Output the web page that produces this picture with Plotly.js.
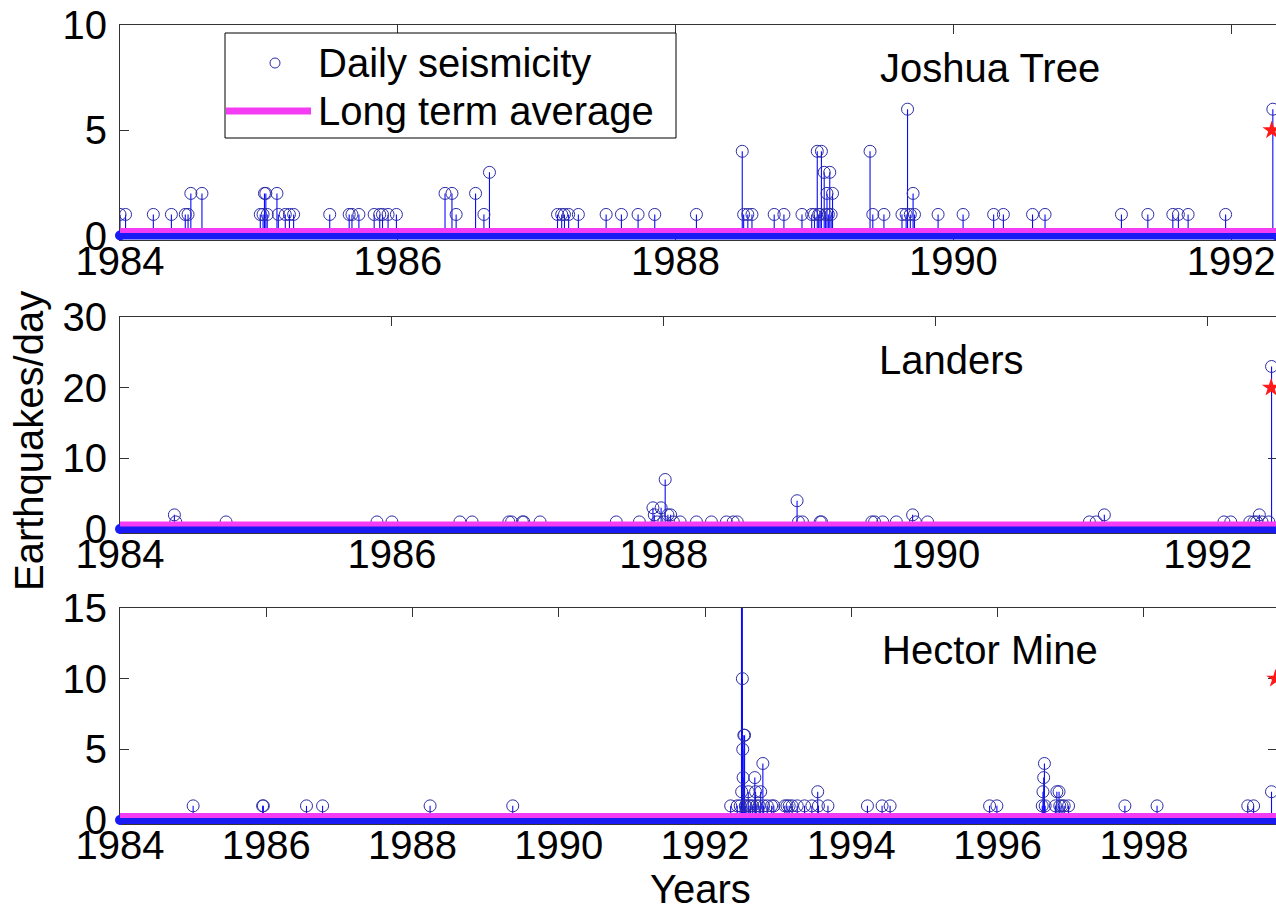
<!DOCTYPE html>
<html><head><meta charset="utf-8">
<script src="https://cdn.plot.ly/plotly-3.0.1.min.js"></script>
<style>html,body{margin:0;padding:0;overflow:hidden;background:#fff;}#chart{width:1287px;height:910px;}</style>
</head><body><div id="chart"></div>
<script>
// ---- data (decimal years, earthquakes per day) ----
const jtYears = [1984.00,1984.04,1984.24,1984.37,1984.47,1984.49,1984.51,1984.59,
 1985.01,1985.03,1985.04,1985.05,1985.06,1985.13,1985.14,1985.19,1985.22,1985.25,
 1985.51,1985.65,1985.67,1985.72,1985.83,1985.87,1985.89,1985.93,1985.99,
 1986.34,1986.39,1986.42,1986.56,1986.62,1986.66,
 1987.15,1987.18,1987.20,1987.23,1987.30,1987.50,1987.61,1987.73,1987.85,
 1988.15,1988.48,1988.49,1988.52,1988.55,1988.71,1988.78,1988.91,
 1988.98,1989.00,1989.02,1989.03,1989.04,1989.05,1989.07,1989.08,1989.09,1989.10,1989.11,1989.12,1989.13,
 1989.40,1989.42,1989.50,1989.63,1989.66,1989.67,1989.69,1989.71,1989.72,
 1989.89,1990.07,1990.29,1990.36,1990.57,1990.66,1991.21,1991.40,1991.58,1991.62,1991.69,1991.96,1992.30];
const jtCounts = [1,1,1,1,1,1,2,2,
 1,1,2,2,1,2,1,1,1,1,
 1,1,1,1,1,1,1,1,1,
 2,2,1,2,1,3,
 1,1,1,1,1,1,1,1,1,
 1,4,1,1,1,1,1,1,
 1,1,4,1,1,4,3,1,2,1,3,1,2,
 4,1,1,1,1,6,1,2,1,
 1,1,1,1,1,1,1,1,1,1,1,1,6];

const laYears = [1984.40,1984.41,1984.78,1985.89,1986.00,1986.50,1986.59,1986.86,1986.88,1986.96,1986.97,1987.09,
 1987.65,1987.82,1987.92,1987.93,1987.95,1987.98,1988.00,1988.01,1988.03,1988.05,1988.07,1988.12,1988.24,1988.35,1988.46,1988.51,1988.54,
 1988.98,1988.99,1989.02,1989.15,1989.16,
 1989.53,1989.55,1989.61,1989.71,1989.83,1989.85,1989.94,
 1991.13,1991.18,1991.24,
 1992.12,1992.17,1992.31,1992.34,1992.36,1992.38,1992.40,1992.45,1992.47];
const laCounts = [2,1,1,1,1,1,1,1,1,1,1,1,
 1,1,3,2,1,3,1,7,2,2,1,1,1,1,1,1,1,
 4,1,1,1,1,
 1,1,1,1,2,1,1,
 1,1,2,
 1,1,1,1,1,2,1,1,23];

const hmYears = [1985.00,1985.95,1985.96,1986.55,1986.77,1988.24,1989.37,
 1992.35,1992.44,1992.48,1992.498,1992.50,1992.505,1992.508,1992.51,1992.515,1992.52,1992.53,1992.54,1992.55,1992.56,1992.59,1992.60,1992.62,1992.65,1992.68,1992.69,1992.70,1992.74,1992.76,1992.79,1992.80,1992.85,1992.91,
 1992.94,1993.09,1993.12,1993.15,1993.19,1993.26,1993.36,1993.46,1993.54,1993.55,1993.68,
 1994.22,1994.42,1994.53,1995.89,1995.99,
 1996.61,1996.62,1996.63,1996.64,1996.65,
 1996.79,1996.81,1996.84,1996.85,1996.88,1996.91,1996.97,
 1997.74,1998.18,1999.42,1999.50,1999.745];
const hmCounts = [1,1,1,1,1,1,1,
 1,1,1,30,2,60,20,10,5,3,6,6,1,1,2,1,1,1,3,2,1,1,2,4,1,1,1,
 1,1,1,1,1,1,1,1,2,1,1,
 1,1,1,1,1,
 1,2,3,4,1,
 1,2,2,1,1,1,1,
 1,1,1,1,2];

const panelNames = ['Joshua Tree', 'Landers', 'Hector Mine'];
const startYear = 1984;
const eventYears = [1992.292, 1992.467, 1999.80];   // mainshock (star)
const eventMarks = [5, 20, 10];
const longTermAvg = [0.24, 0.7, 0.32];
const axisEndYears = [1992.33, 1992.51, 1999.82];
const yMaxes = [10, 30, 15];
const xTickVals = [[1984,1986,1988,1990,1992],[1984,1986,1988,1990,1992],[1984,1986,1988,1990,1992,1994,1996,1998]];
const yTickVals = [[0,5,10],[0,10,20,30],[0,5,10,15]];
const legendLabels = ['Daily seismicity', 'Long term average'];
const xTitle = 'Years', yTitle = 'Earthquakes/day';

const seriesYears = [jtYears, laYears, hmYears];
const seriesCounts = [jtCounts, laCounts, hmCounts];

// ---- layout geometry (pixels) ----
const W = 1287, H = 910, L = 120, R = 10, T = 25, B = 86;
const plotW = W - L - R, plotH = H - T - B;
const panelTopPx = [25, 317, 608];
const panelZeroPx = [235.5, 529, 820];
const below = 4;
const FONT = '"Liberation Sans", Arial, Helvetica, sans-serif';
const pxX = x => (x - L) / plotW;
const pxY = y => (H - B - y) / plotH;

const BAND = '#1a1af5', STEM = '#0a0aff', CIRC = '#2c2ca8', MAG = '#f43cf4', STAR = '#ff1a1a';
const TICKSIZE = 40, TEXTSIZE = 40;

const traces = [];
const layout = {
  width: W, height: H, margin: {l: L, r: R, t: T, b: B},
  paper_bgcolor: '#fff', plot_bgcolor: '#fff', showlegend: false,
  font: {family: FONT, color: '#000'},
  annotations: [], shapes: []
};

for (let i = 0; i < 3; i++) {
  const sfx = i === 0 ? '' : String(i + 1);
  const xa = 'x' + sfx, ya = 'y' + sfx;
  const yrs = seriesYears[i], cnt = seriesCounts[i];
  const sx = [], sy = [];
  yrs.forEach((x, k) => { sx.push(x, x, null); sy.push(0, cnt[k], null); });
  traces.push({type: 'scatter', mode: 'lines', x: sx, y: sy, xaxis: xa, yaxis: ya,
    line: {color: STEM, width: 1.1}, hoverinfo: 'skip'});
  traces.push({type: 'scatter', mode: 'markers', x: yrs, y: cnt, xaxis: xa, yaxis: ya, name: legendLabels[0],
    marker: {symbol: 'circle-open', size: 12, color: CIRC, line: {width: 1}}});
  traces.push({type: 'scatter', mode: 'lines+markers', x: [startYear, axisEndYears[i]], y: [0, 0], xaxis: xa, yaxis: ya,
    line: {color: BAND, width: 10}, marker: {size: 10, color: BAND}, cliponaxis: false, hoverinfo: 'skip'});
  traces.push({type: 'scatter', mode: 'lines', x: [startYear, axisEndYears[i]], y: [longTermAvg[i], longTermAvg[i]],
    xaxis: xa, yaxis: ya, name: legendLabels[1], line: {color: MAG, width: 5}});
  traces.push({type: 'scatter', mode: 'markers', x: [eventYears[i]], y: [eventMarks[i]], xaxis: xa, yaxis: ya,
    marker: {symbol: 'star', size: 14, color: STAR}, cliponaxis: false});

  const ppu = (panelZeroPx[i] - panelTopPx[i]) / yMaxes[i];
  const axCommon = {showgrid: false, zeroline: false, showline: true, linecolor: '#333', linewidth: 1,
    mirror: 'ticks', ticks: 'inside', ticklen: 9, tickwidth: 1, tickcolor: '#333',
    tickfont: {family: FONT, size: TICKSIZE, color: '#000'}, layer: 'below traces', fixedrange: true};
  layout['xaxis' + sfx] = Object.assign({}, axCommon, {
    anchor: ya, domain: [0, 1], range: [startYear, axisEndYears[i]],
    tickmode: 'array', tickvals: xTickVals[i], ticktext: xTickVals[i].map(String), ticklabelstandoff: -14});
  layout['yaxis' + sfx] = Object.assign({}, axCommon, {
    anchor: xa, domain: [pxY(panelZeroPx[i] + below), pxY(panelTopPx[i])],
    range: [-below / ppu, yMaxes[i]], tickmode: 'array', tickvals: yTickVals[i],
    ticktext: yTickVals[i].map(String), ticklabelstandoff: 4});
}

// panel titles
const titlePos = [[990, 68], [951, 360], [990, 650]];
panelNames.forEach((t, i) => layout.annotations.push({text: t, xref: 'paper', yref: 'paper',
  x: pxX(titlePos[i][0]), y: pxY(titlePos[i][1]), xanchor: 'center', yanchor: 'middle', showarrow: false,
  font: {family: FONT, size: TEXTSIZE, color: '#000'}}));
// axis titles
layout.annotations.push({text: yTitle, xref: 'paper', yref: 'paper', x: pxX(29), y: pxY(441),
  xanchor: 'center', yanchor: 'middle', textangle: -90, showarrow: false, font: {family: FONT, size: TEXTSIZE, color: '#000'}});
layout.annotations.push({text: xTitle, xref: 'paper', yref: 'paper', x: pxX(700), y: pxY(889),
  xanchor: 'center', yanchor: 'middle', showarrow: false, font: {family: FONT, size: TEXTSIZE, color: '#000'}});

// legend box
layout.shapes.push({type: 'rect', xref: 'paper', yref: 'paper', x0: pxX(225), x1: pxX(676), y0: pxY(138), y1: pxY(33),
  line: {color: '#000', width: 1}, fillcolor: '#fff', layer: 'above'});
layout.shapes.push({type: 'circle', xref: 'paper', yref: 'paper', xsizemode: 'pixel', ysizemode: 'pixel',
  xanchor: pxX(275), yanchor: pxY(63), x0: -5, x1: 5, y0: -5, y1: 5, line: {color: CIRC, width: 1}, layer: 'above'});
layout.shapes.push({type: 'line', xref: 'paper', yref: 'paper', x0: pxX(226), x1: pxX(311), y0: pxY(111), y1: pxY(111),
  line: {color: MAG, width: 7}, layer: 'above'});
legendLabels.forEach((t, k) => layout.annotations.push({text: t, xref: 'paper', yref: 'paper',
  x: pxX(316), y: pxY(k === 0 ? 63 : 111), xanchor: 'left', yanchor: 'middle', showarrow: false,
  font: {family: FONT, size: TEXTSIZE, color: '#000'}}));

Plotly.newPlot('chart', traces, layout, {displayModeBar: false, staticPlot: true});
</script></body></html>
